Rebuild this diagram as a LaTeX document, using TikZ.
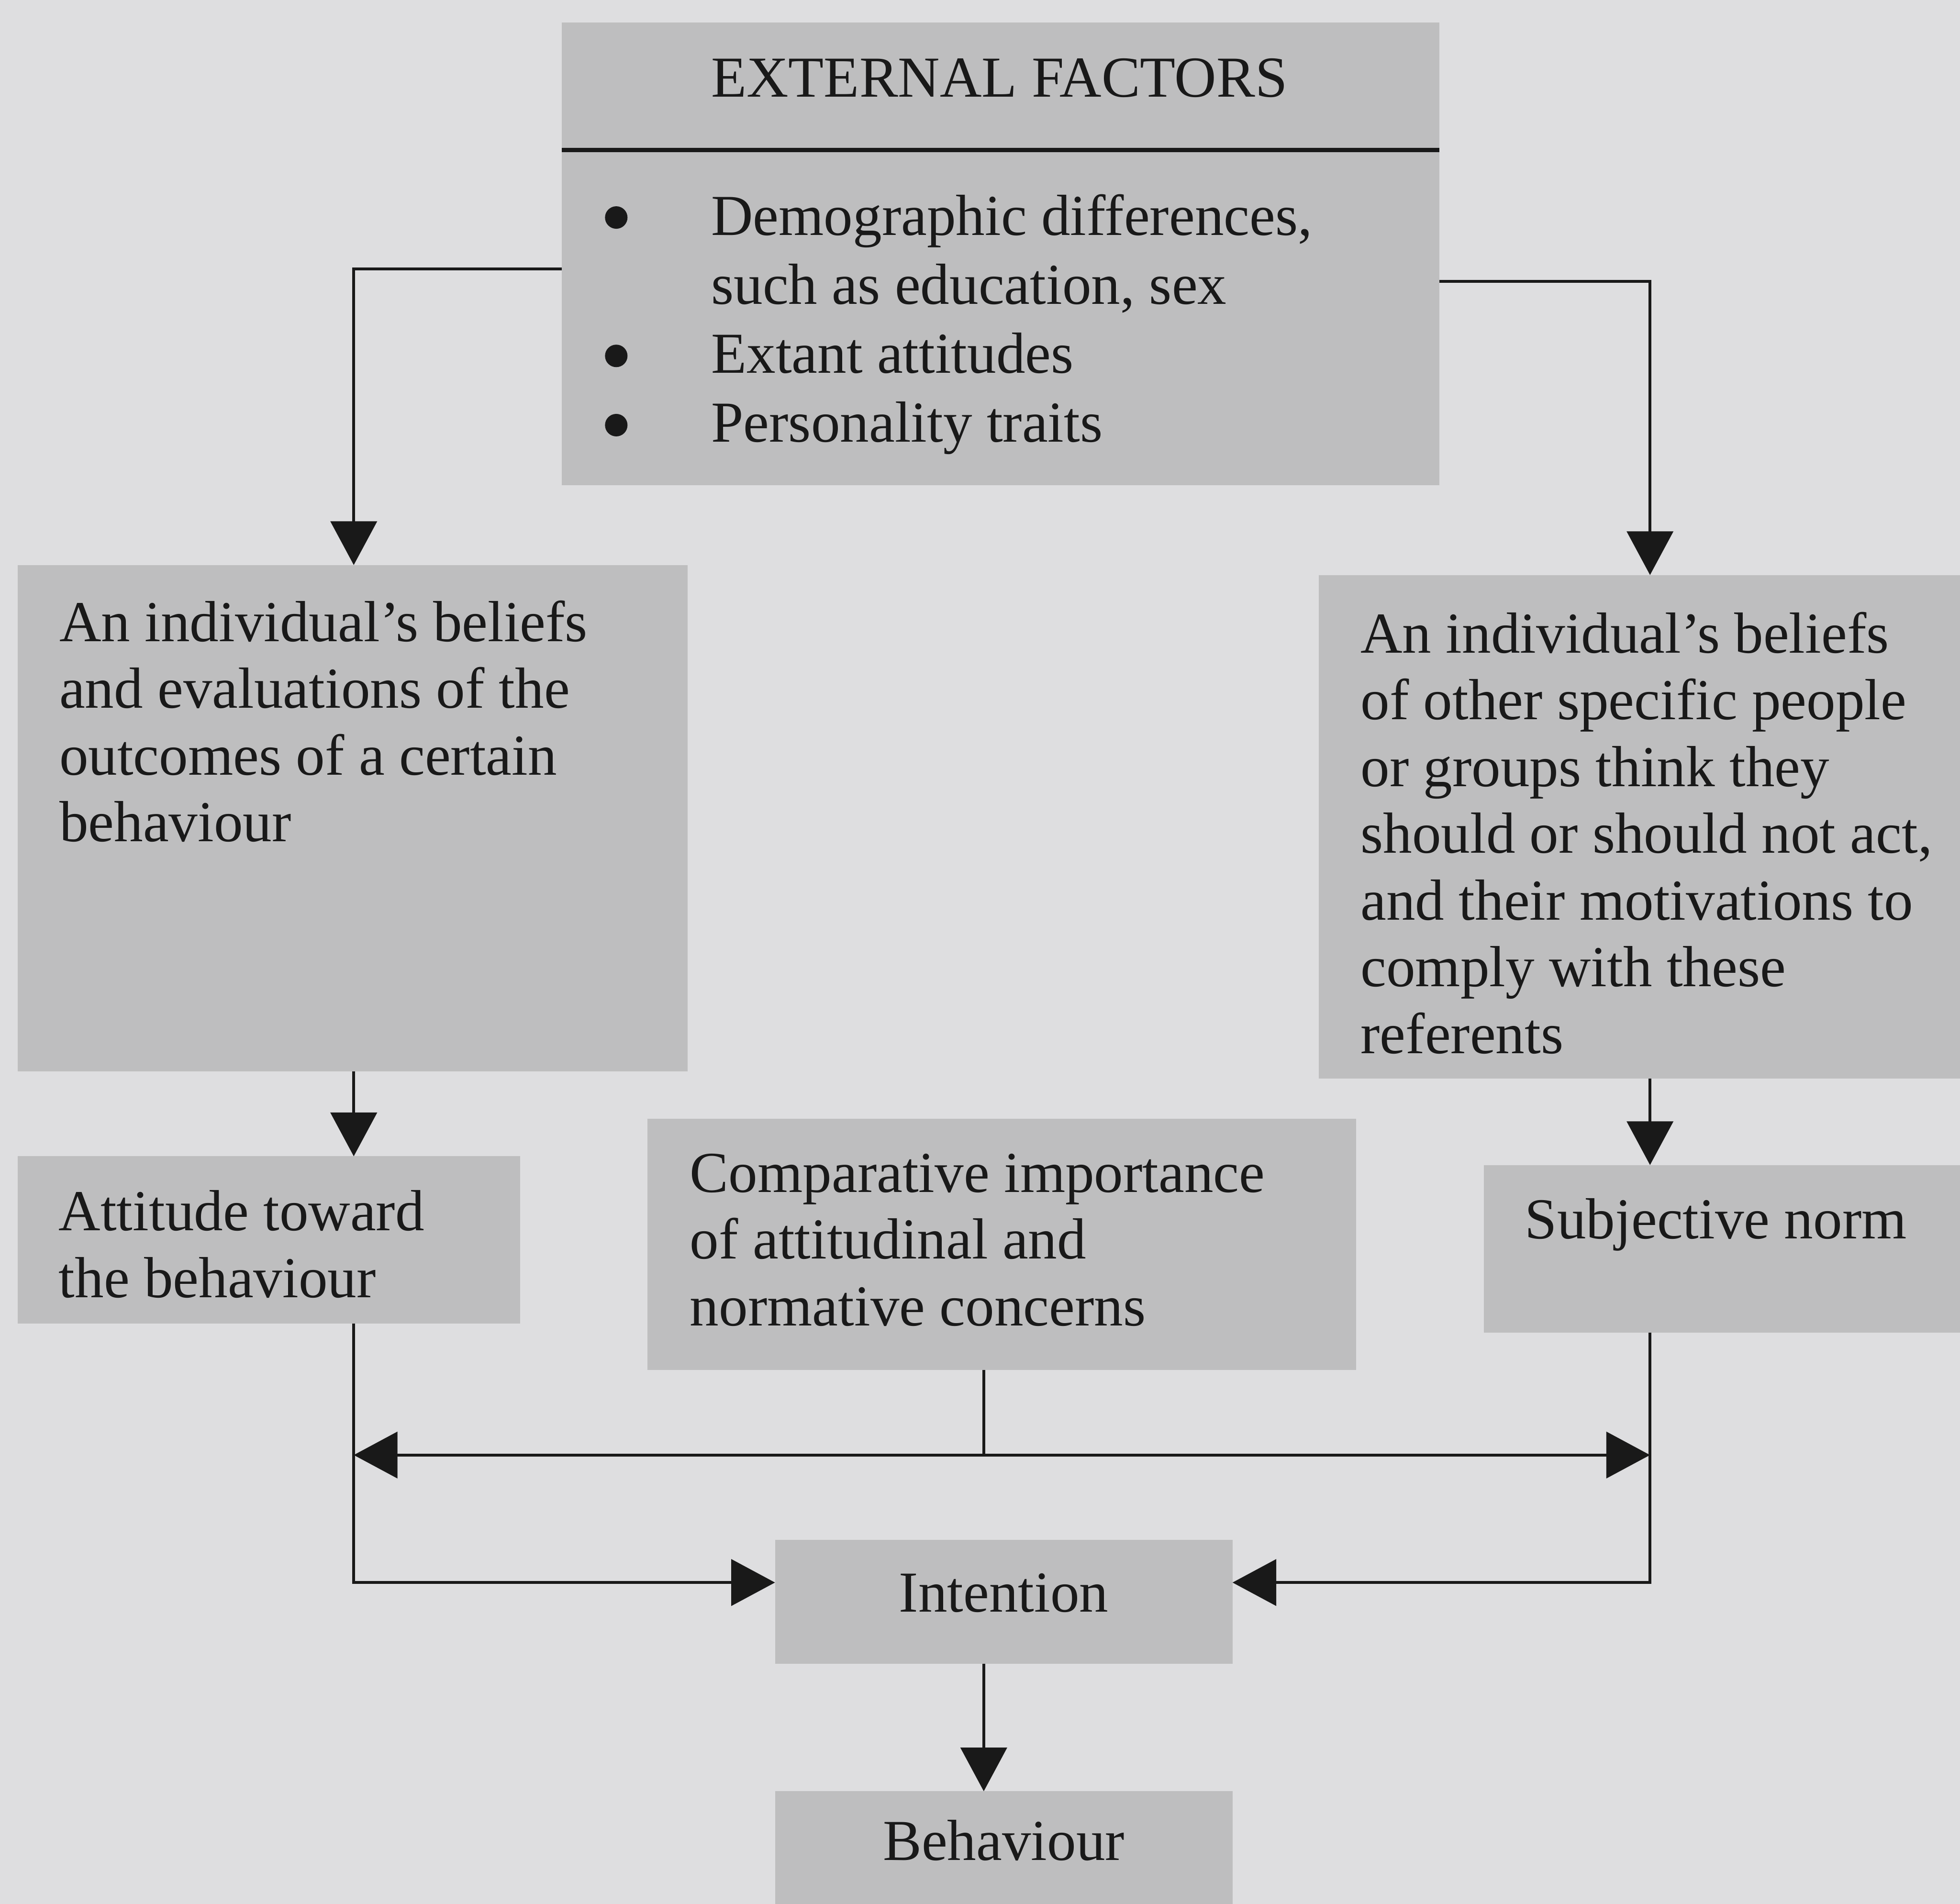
\documentclass[tikz,border=0pt]{standalone}
\usepackage{fontspec}
\setmainfont{Liberation Serif}
\usetikzlibrary{arrows.meta}
\definecolor{paper}{RGB}{222,222,224}
\definecolor{boxfill}{RGB}{190,190,191}
\definecolor{ink}{RGB}{25,25,25}

\begin{document}
\begin{tikzpicture}[
  panel/.style={draw=none, fill=boxfill, rectangle, inner sep=0pt, outer sep=0pt},
  label/.style={inner sep=0pt, outer sep=0pt, text=ink,
    font=\fontsize{13.2}{15.2}\selectfont, align=flush left, anchor=base west},
  link/.style={draw=ink, line width=0.65pt},
  dot/.style={fill=ink},
  tip/.style={link, -{Triangle[length=0.35cm, width=0.37cm]}},
  twotip/.style={link, {Triangle[length=0.35cm, width=0.37cm]}-{Triangle[length=0.35cm, width=0.37cm]}},
]
% page
\fill[paper] (0,0) rectangle (15.68,-15.23);
\useasboundingbox (0,0) rectangle (15.68,-15.23);

% connector columns and rows
\coordinate (colL) at (2.83,0);
\coordinate (colM) at (7.87,0);
\coordinate (colR) at (13.20,0);
\coordinate (busY) at (0,-11.64);
\coordinate (divY) at (0,-1.20);

% boxes
\node[panel, minimum width=7.02cm, minimum height=3.70cm] (ext) at (8.005,-2.03) {};
\node[panel, minimum width=5.36cm, minimum height=4.05cm] (lb)  at (2.82,-6.545) {};
\node[panel, minimum width=5.13cm, minimum height=4.03cm] (rb)  at (13.115,-6.615) {};
\node[panel, minimum width=4.02cm, minimum height=1.34cm] (att) at (2.15,-9.92) {};
\node[panel, minimum width=5.67cm, minimum height=2.01cm] (cmp) at (8.015,-9.955) {};
\node[panel, minimum width=3.81cm, minimum height=1.34cm] (sn)  at (13.775,-9.99) {};
\node[panel, minimum width=3.66cm, minimum height=0.99cm] (int) at (8.03,-12.815) {};
\node[panel, minimum width=3.66cm, minimum height=0.90cm] (beh) at (8.03,-14.78) {};

% heading rule of the external factors box
\draw[link, line width=0.9pt] (ext.west |- divY) -- (ext.east |- divY);

% texts
\node[label] (extT) at (5.69,-0.775) {EXTERNAL FACTORS};
\node[label, text width=5.2cm, font=\fontsize{13.2}{15.7}\selectfont] (extL) at (5.69,-1.88)
  {Demographic differences,\\ such as education, sex\\ Extant attitudes\\ Personality traits};
% list bullets
\fill[dot] ([xshift=-0.76cm, yshift=0.14cm]extL.base west) circle (0.09cm);
\fill[dot] ([xshift=-0.76cm, yshift=-0.967cm]extL.base west) circle (0.09cm);
\fill[dot] ([xshift=-0.76cm, yshift=-1.521cm]extL.base west) circle (0.09cm);

\node[label, text width=5.0cm] (lbT) at (0.475,-5.13)
  {An individual’s beliefs\\ and evaluations of the\\ outcomes of a certain\\ behaviour};
\node[label, text width=4.75cm] (rbT) at (10.885,-5.222)
  {An individual’s beliefs\\ of other specific people\\ or groups think they\\ should or should not act,\\ and their motivations to\\ comply with these\\ referents};
\node[label, text width=3.4cm] (attT) at (0.47,-9.845) {Attitude toward\\ the behaviour};
\node[label, text width=5.0cm] (cmpT) at (5.52,-9.536)
  {Comparative importance\\ of attitudinal and\\ normative concerns};
\node[label] (snT) at (12.20,-9.908) {Subjective norm};
\node[label, anchor=base] (intT) at (8.03,-12.893) {Intention};
\node[label, anchor=base] (behT) at (8.03,-14.882) {Behaviour};

% connectors
\draw[tip] ([yshift=-0.12cm]ext.west) -| (lb.north -| colL);
\draw[tip] ([yshift=-0.22cm]ext.east) -| (rb.north -| colR);
\draw[tip] (lb.south -| colL) -- (att.north -| colL);
\draw[tip] (rb.south -| colR) -- (sn.north -| colR);
\draw[link] (cmp.south -| colM) -- (colM |- busY);
\draw[twotip] (colL |- busY) -- (colR |- busY);
\draw[tip] (att.south -| colL) |- ([yshift=0.155cm]int.west);
\draw[tip] (sn.south -| colR) |- ([yshift=0.155cm]int.east);
\draw[tip] (int.south -| colM) -- (beh.north -| colM);
\end{tikzpicture}
\end{document}
